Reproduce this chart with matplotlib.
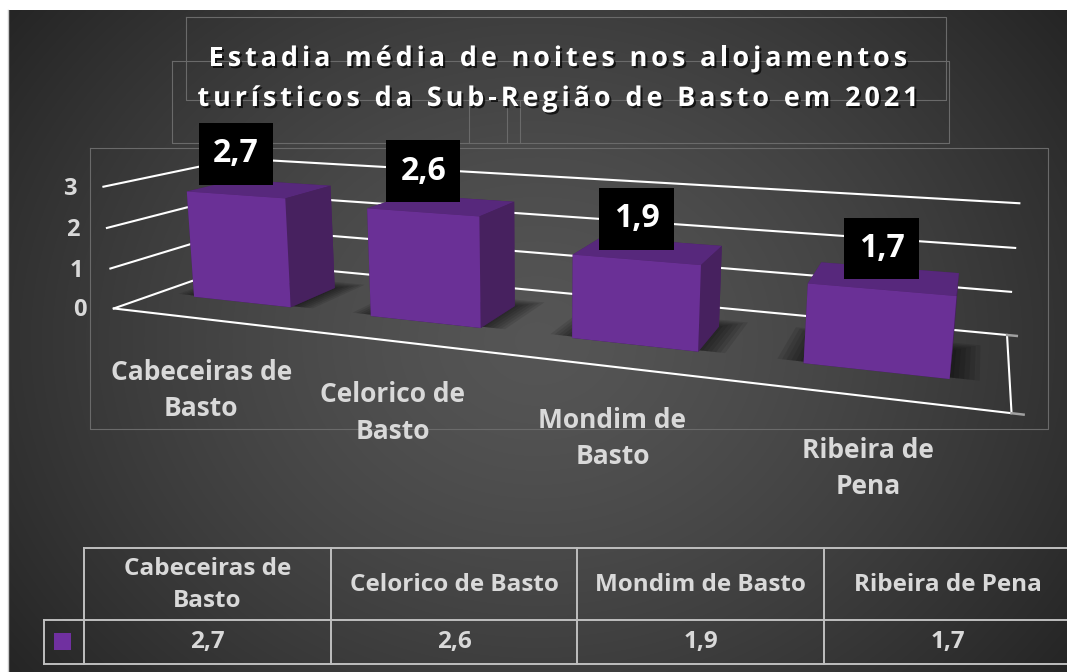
import numpy as np
import matplotlib
matplotlib.use('Agg')
import matplotlib.pyplot as plt
from matplotlib.transforms import offset_copy
from matplotlib.font_manager import FontProperties
from matplotlib import patheffects as pe
from mpl_toolkits.mplot3d.art3d import Poly3DCollection

plt.rcParams['font.family'] = ['Open Sans', 'DejaVu Sans']

W, H = 1067, 672

categories = ['Cabeceiras de\nBasto', 'Celorico de\nBasto', 'Mondim de\nBasto', 'Ribeira de\nPena']
table_labels = ['Cabeceiras de\nBasto', 'Celorico de Basto', 'Mondim de Basto', 'Ribeira de Pena']
values = [2.7, 2.6, 1.9, 1.7]
value_labels = ['2,7', '2,6', '1,9', '1,7']
yticks = [0, 1, 2, 3]
title_lines = ['Estadia média de noites nos alojamentos',
               'turísticos da Sub-Região de Basto em 2021']

# 3D view (Excel-like perspective)
bar_w, bar_d, bar_y0 = 0.5624, 0.3864, 0.306
purple_faces = ['#3a1a50', '#57287c', '#6a3096', '#47215f', '#47215f', '#47215f']
label_grey = '#d9d9d9'

fig = plt.figure(figsize=(W / 100, H / 100), dpi=100, facecolor='white')

# background: dark radial gradient, in pixel coords
bg = fig.add_axes([8 / W, 0, (W - 8) / W, (H - 10) / H])
yy, xx = np.mgrid[0:1:300j, 0:1:480j]
r = np.hypot(xx - 0.5, (yy - 0.5) * 0.75) / np.hypot(0.5, 0.375)
shade = 0.335 - 0.19 * r ** 1.4
bg.imshow(np.dstack([shade] * 3), extent=[8, W, H, 10], aspect='auto', interpolation='bilinear')
bg.set_xlim(8, W); bg.set_ylim(H, 10)
bg.axis('off')
faint = '#6a6a6a'
for (x0r, y0r, x1r, y1r) in [(186, 17, 946, 100), (172, 61, 949, 143), (90, 148, 1048, 429)]:
    bg.plot([x0r, x1r, x1r, x0r, x0r], [y0r, y0r, y1r, y1r, y0r], color=faint, lw=0.8)
for xv in (469, 507, 520):
    bg.plot([xv, xv], [100, 143], color=faint, lw=0.8)

# 3D chart
ax = fig.add_axes([0.07948, -0.06547, 0.83460, 1.32518], projection='3d')
ax.set_xlim(0, len(values)); ax.set_ylim(0, 1); ax.set_zlim(0, yticks[-1])
ax.view_init(elev=12.7088, azim=-69.1335, roll=-0.0165)
ax.set_box_aspect((4, 1.0512, 0.5908))
ax.set_proj_type('persp', focal_length=0.2369)
ax.computed_zorder = False
ax.set_axis_off()
ax.patch.set_visible(False)

n = len(values)
grid_kw = dict(color='white', lw=1.5, zorder=1, clip_on=False)
for k in yticks:
    ax.plot([0, 0, n], [0, 1, 1], [k, k, k], **grid_kw)
ax.plot([0, n, n], [0, 0, 1], [0, 0, 0], **grid_kw)
for yv in (0, 1):
    ax.plot([n, n + 0.04], [yv, yv], [0, 0], color='#a0a0a0', lw=1.8, zorder=1, clip_on=False)

# soft shadows on the floor
for i, v in enumerate(values):
    x0 = i + 0.5 - bar_w / 2
    for e in np.linspace(0.015, 0.11, 6):
        quad = [(x0 - e, bar_y0 + 0.02, 0), (x0 + bar_w + e, bar_y0 + 0.02, 0),
                (x0 + bar_w + e, bar_y0 + bar_d + e, 0), (x0 - e, bar_y0 + bar_d + e, 0)]
        pc = Poly3DCollection([quad], facecolor='black', alpha=0.1, edgecolor='none', zorder=2)
        pc.set_clip_on(False)
        ax.add_collection3d(pc)

for i, v in enumerate(values):
    bars = ax.bar3d(i + 0.5 - bar_w / 2, bar_y0, 0, bar_w, bar_d, v, color=purple_faces,
                    shade=False, linewidth=0, zorder=3)
    bars.set_clip_on(False)

for k in yticks:
    ax.text(0, 0, k, str(k), ha='center', va='center', fontsize=17, fontweight='bold',
            color=label_grey, transform=offset_copy(ax.transData, fig=fig, x=-34, y=-2, units='dots'))

for i, v in enumerate(values):
    ax.text(i + 0.5, bar_y0, v, value_labels[i], ha='center', va='center', fontsize=23,
            fontweight='bold', color='white', zorder=6,
            bbox=dict(boxstyle='square,pad=0.45', facecolor='black', edgecolor='none'),
            transform=offset_copy(ax.transData, fig=fig, x=1, y=41, units='dots'))
    ax.text(i + 0.5, 0, 0, categories[i], ha='center', va='center', fontsize=19, fontweight='bold',
            color=label_grey, linespacing=1.45,
            transform=offset_copy(ax.transData, fig=fig, x=1, y=-72, units='dots'))

# overlay in pixel coords (title, table)
ov = fig.add_axes([0, 0, 1, 1])
ov.set_xlim(0, W); ov.set_ylim(H, 0)
ov.set_facecolor('none'); ov.axis('off')
ov.plot([7.5, 7.5], [10, H], color='#c8c8c8', lw=1)

# letter-spaced title
renderer = fig.canvas.get_renderer()
tprop = FontProperties(family='Open Sans', weight='bold', size=19.5)


def text_w(t):
    if not t:
        return 0.0
    return (renderer.get_text_width_height_descent(t + '|', tprop, ismath=False)[0]
            - renderer.get_text_width_height_descent('|', tprop, ismath=False)[0])


target_w = 721
spacing = (target_w - text_w(title_lines[1])) / (len(title_lines[1]) - 1)
shadow = [pe.withSimplePatchShadow(offset=(1.5, -1.5), shadow_rgbFace='black', alpha=0.7)]
for j, ln in enumerate(title_lines):
    total = text_w(ln) + spacing * (len(ln) - 1)
    start = 558 - total / 2
    for k, ch in enumerate(ln):
        if ch == ' ':
            continue
        ov.text(start + text_w(ln[:k]) + spacing * k, 66 + 40 * j, ch, ha='left', va='baseline',
                fontproperties=tprop, color='white', path_effects=shadow)

# data table
tcol = '#bfbfbf'
cols = [84, 331, 577, 824, 1071]
tl = dict(color=tcol, lw=1.4)
ov.plot([84, W], [548, 548], **tl)
ov.plot([44, W], [620, 620], **tl)
ov.plot([44, W], [664, 664], **tl)
ov.plot([44, 44], [620, 664], **tl)
for xv in cols[:-1]:
    ov.plot([xv, xv], [548, 664], **tl)
ov.add_patch(plt.Rectangle((54, 633), 17, 17, facecolor='#7030a0', edgecolor='none'))
for i in range(n):
    cx = (cols[i] + cols[i + 1]) / 2
    ov.text(cx, 585, table_labels[i], ha='center', va='center', fontsize=17.5, fontweight='bold',
            color=label_grey, linespacing=1.4)
    ov.text(cx, 642, value_labels[i], ha='center', va='center', fontsize=17.5, fontweight='bold',
            color=label_grey)

fig.savefig('out.png', dpi=100, facecolor='white')
